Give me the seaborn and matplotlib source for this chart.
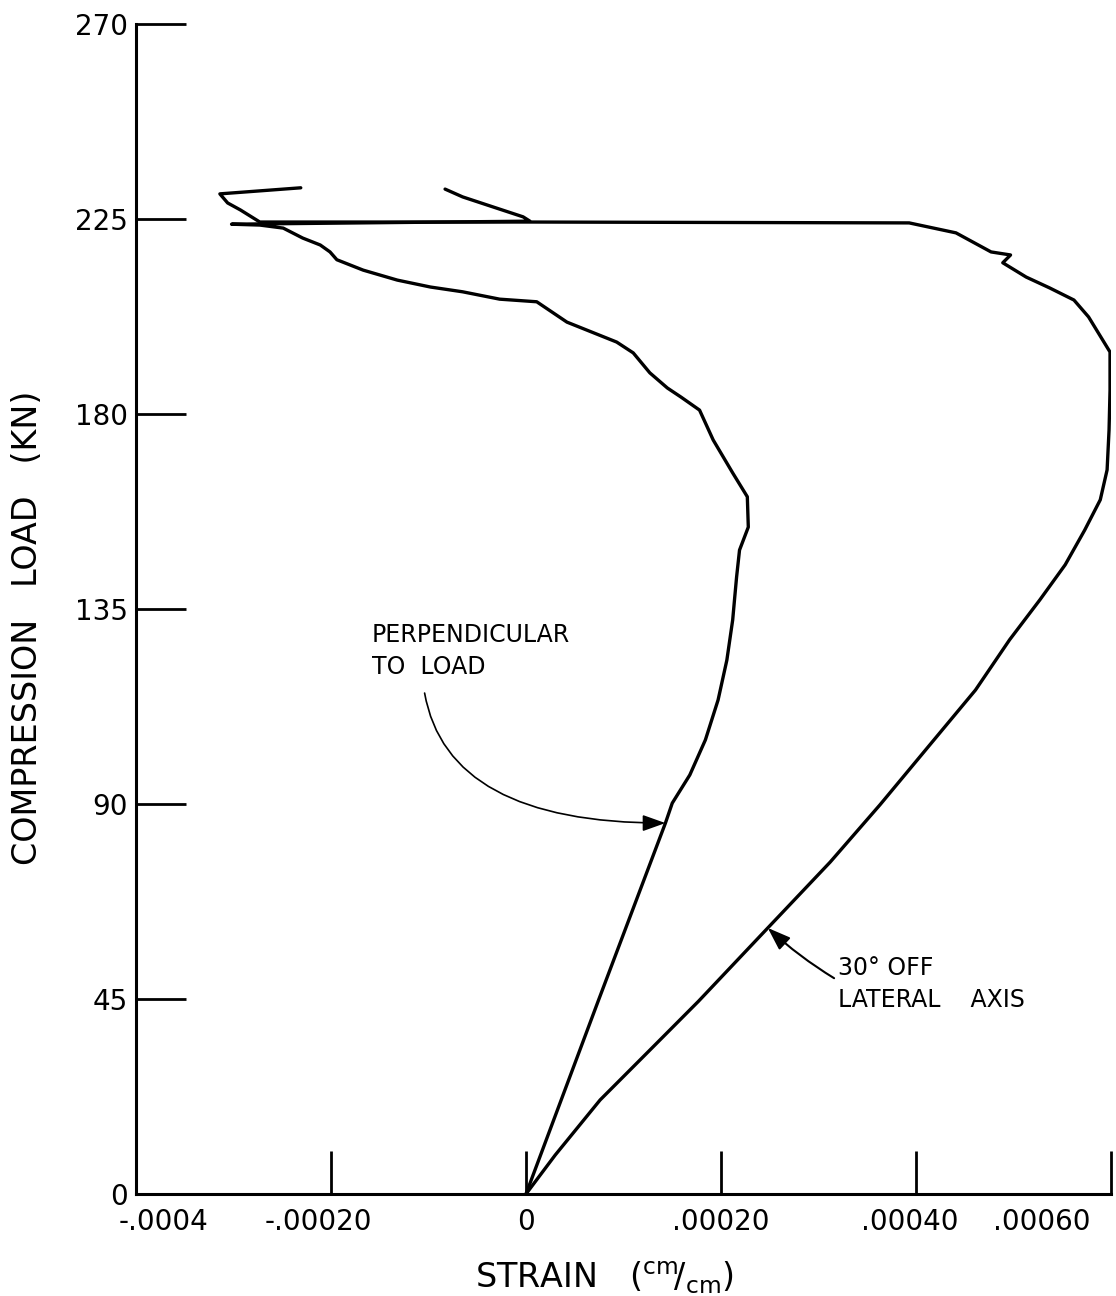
import matplotlib
matplotlib.use("Agg")
import matplotlib.pyplot as plt
from matplotlib.transforms import ScaledTranslation
import pandas as pd
import seaborn as sns

# Strain in units of 1e-4 cm/cm, compression load in kN
perp_strain_e4 = [0.0, 0.74, 1.43, 1.50, 1.68, 1.84, 1.97, 2.06, 2.12, 2.14, 2.16, 2.19,
                  2.28, 2.27, 2.12, 1.92, 1.78, 1.59, 1.45, 1.27, 1.10, 0.93, 0.42, 0.11,
                  -0.27, -0.65, -0.98, -1.32, -1.67, -1.94, -2.01, -2.11, -2.29, -2.49,
                  -2.73, -3.02, 0.04, -0.03, -0.30, -0.65, -0.83]
perp_load = [0.0, 44.5, 85.6, 90.2, 96.7, 104.8, 114.0, 123.2, 132.5, 137.5, 142.4, 148.6,
             153.9, 160.9, 166.4, 174.0, 180.9, 183.9, 186.0, 189.5, 194.1, 196.6, 201.2, 205.9,
             206.5, 208.2, 209.3, 210.9, 213.2, 215.6, 217.4, 219.0, 220.6, 222.9,
             223.6, 223.8, 224.5, 225.5, 227.5, 230.1, 231.9]

lat30_strain_e4 = [0.0, 0.30, 0.76, 1.27, 1.77, 2.48, 3.12, 3.63, 4.14, 4.61, 4.96, 5.27,
                   5.53, 5.73, 5.89, 5.96, 5.98, 5.99, 5.99, 5.77, 5.62, 5.37, 5.13, 4.89,
                   4.97, 4.77, 4.41, 3.93, 0.04, -2.73, -2.93, -3.06, -3.14, -2.31]
lat30_load = [0.0, 9.0, 21.7, 33.2, 44.5, 61.4, 76.6, 89.8, 103.6, 116.3, 127.9, 137.1,
              145.2, 153.2, 160.2, 167.1, 176.3, 185.5, 194.3, 202.4, 206.3, 209.1, 211.6, 214.9,
              216.7, 217.4, 221.8, 224.1, 224.3, 224.3, 227.1, 228.7, 230.8, 232.2]

x_ticks = [-0.0004, -0.0002, 0.0, 0.0002, 0.0004, 0.0006]
x_tick_labels = ["-.0004", "-.00020", "0", ".00020", ".00040", ".00060"]
y_ticks = [0, 45, 90, 135, 180, 225, 270]
y_tick_labels = ["0", "45", "90", "135", "180", "225", "270"]

E4 = 1e-4
perp = pd.DataFrame({"strain": [v * E4 for v in perp_strain_e4], "load": perp_load})
lat30 = pd.DataFrame({"strain": [v * E4 for v in lat30_strain_e4], "load": lat30_load})

sns.set_theme(style="white")
plt.rcParams["font.family"] = ["DejaVu Sans"]
plt.rcParams["text.color"] = "black"
plt.rcParams["axes.labelcolor"] = "black"

fig = plt.figure(figsize=(11.16, 12.96), dpi=100)
ax = fig.add_axes([136 / 1116, 1 - 1194 / 1296, 975 / 1116, 1170 / 1296])

for df in (perp, lat30):
    sns.lineplot(data=df, x="strain", y="load", sort=False, estimator=None,
                 color="black", linewidth=2.4, ax=ax)

ax.set_xlim(-0.0004, 0.0006)
ax.set_ylim(0, 270)
sns.despine(ax=ax)
for side in ("left", "bottom"):
    ax.spines[side].set_linewidth(2.2)
    ax.spines[side].set_color("black")

ax.set_xticks(x_ticks)
ax.set_xticklabels(x_tick_labels)
ax.set_yticks(y_ticks)
ax.set_yticklabels(y_tick_labels)
ax.tick_params(axis="y", left=True, direction="in", length=36, width=2, pad=6,
               labelsize=20, colors="black")
ax.tick_params(axis="x", bottom=True, direction="in", length=31, width=2, pad=10,
               labelsize=20, colors="black")

# hand-lettered scale: end labels pulled inward
x_label_shift_px = [28, -13, 0, 0, -6, -69]
for lab, dx in zip(ax.get_xticklabels(), x_label_shift_px):
    lab.set_transform(lab.get_transform() + ScaledTranslation(dx / 100, 0, fig.dpi_scale_trans))

ax.set_xlabel(r"STRAIN   $(^{\mathrm{cm}}\!/_{\mathrm{cm}})$", fontsize=24)
ax.xaxis.set_label_coords(0.481, -0.056)
ax.set_ylabel("COMPRESSION   LOAD   (KN)", fontsize=24)
ax.yaxis.set_label_coords(-0.094, 0.484)

# curve annotations
ax.text(-1.58e-4, 131.8, "PERPENDICULAR\nTO  LOAD", fontsize=17, ha="left", va="top",
        linespacing=1.45)
ax.annotate("", xy=(perp_strain_e4[2] * E4, perp_load[2]), xytext=(-1.04e-4, 115.6),
            arrowprops=dict(arrowstyle="-|>,head_length=0.7,head_width=0.25",
                            connectionstyle="angle3,angleA=-80,angleB=0",
                            color="black", lw=1.2, shrinkA=0, shrinkB=0,
                            mutation_scale=20))

ax.text(3.20e-4, 55.0, "30° OFF\nLATERAL    AXIS", fontsize=17, ha="left", va="top",
        linespacing=1.45)
ax.annotate("", xy=(lat30_strain_e4[5] * E4, lat30_load[5]), xytext=(3.16e-4, 49.8),
            arrowprops=dict(arrowstyle="-|>,head_length=0.7,head_width=0.25",
                            connectionstyle="arc3,rad=-0.05",
                            color="black", lw=1.5, shrinkA=0, shrinkB=0,
                            mutation_scale=20))

fig.savefig("out.png", dpi=100, facecolor="white")
